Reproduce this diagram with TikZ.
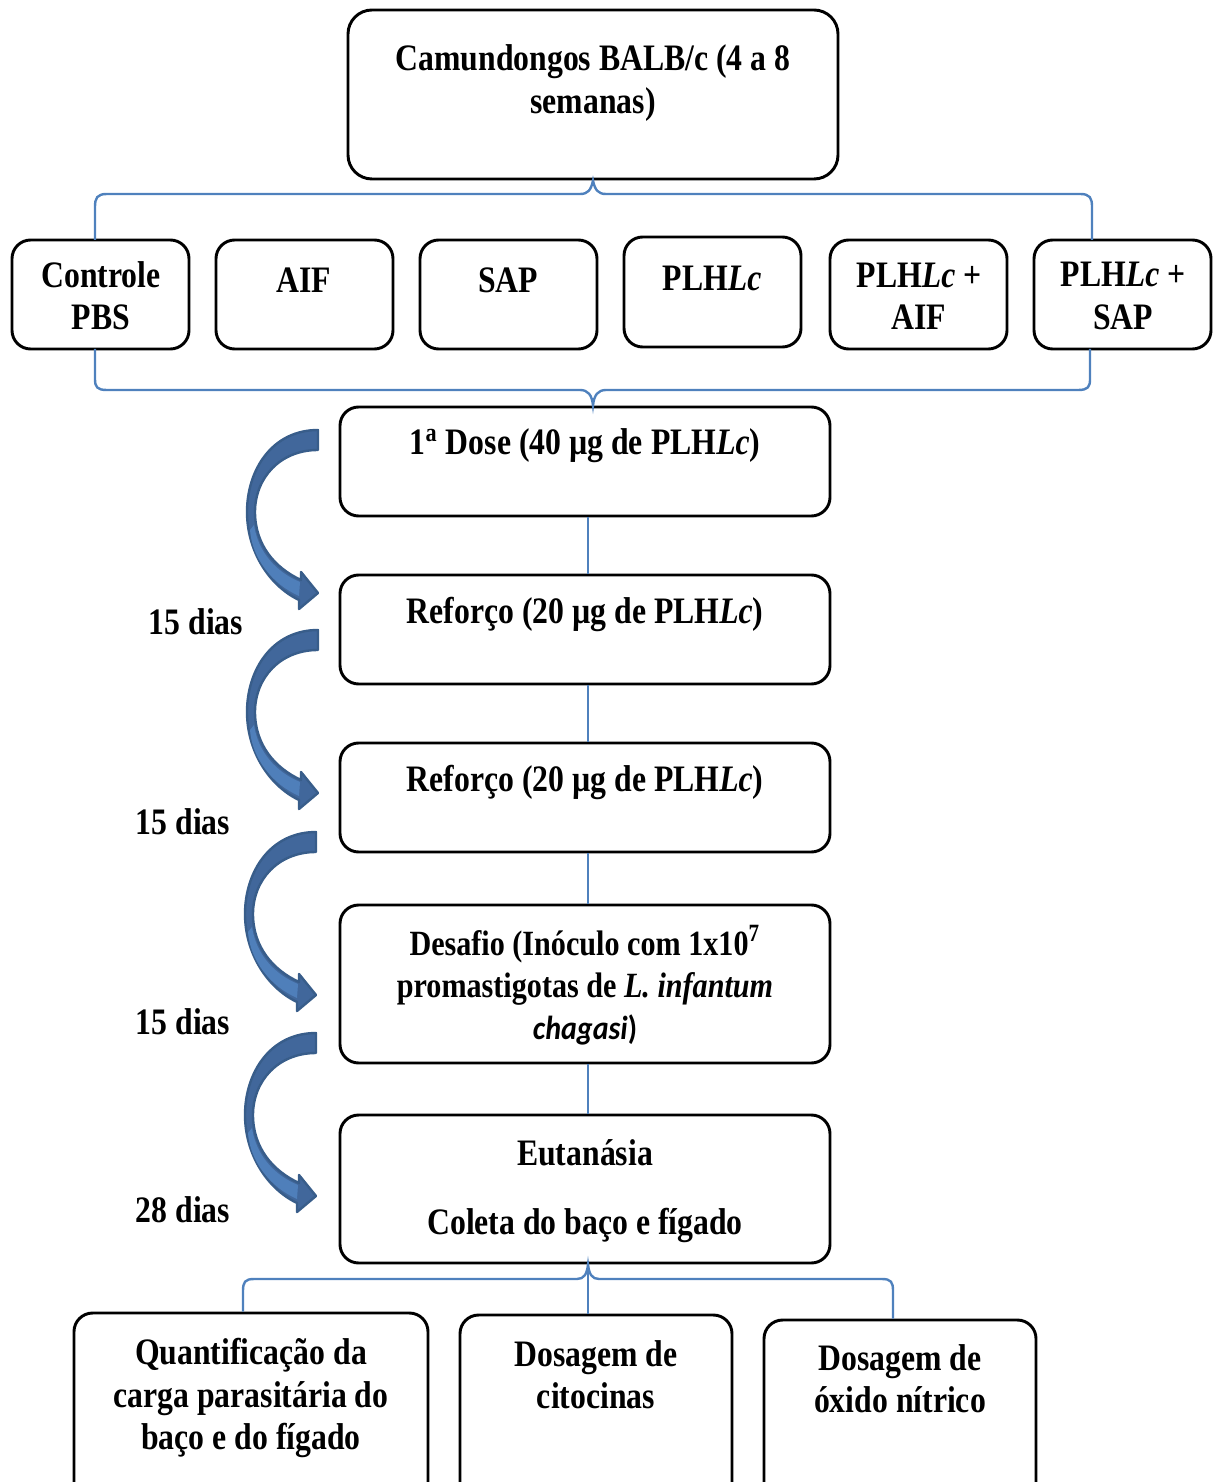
\documentclass[tikz,border=0pt]{standalone}
\usepackage{fontspec}
\setmainfont{Liberation Serif}[FakeStretch=0.85]
\newfontfamily\calibfont{Carlito}[FakeStretch=0.9]
\usetikzlibrary{fit}
\definecolor{linkblue}{HTML}{4F81BD}
\definecolor{arrowfill}{HTML}{41679B}
\definecolor{arrowlight}{HTML}{4F7FBA}
\definecolor{arrowedge}{HTML}{385D8A}
\begin{document}
\begin{tikzpicture}[x=0.375pt,y=-0.375pt,
  stagebox/.style={draw=black, line width=1.1pt, rounded corners=7pt, inner sep=0pt},
  lbl/.style={inner sep=0pt, align=center, font=\bfseries\fontsize{14}{15.8}\selectfont},
  link/.style={draw=linkblue, line width=0.9pt},
  bend arrow/.pic={
    \filldraw[fill=arrowfill, draw=arrowedge, line width=0.9pt, line join=round]
      (0,0) .. controls (-46,0) and (-71,40) .. (-71,82)
      .. controls (-71,120) and (-50,155) .. (-19,170)
      -- (-19,179) -- (0,163) -- (-17,142) -- (-17,150)
      .. controls (-43,138) and (-63,115) .. (-63,82)
      .. controls (-63,48) and (-38,20) .. (0,20) -- cycle;
    \fill[arrowlight]
      (-64,95) .. controls (-60,122) and (-42,142) .. (-18,152)
      -- (-19,166) .. controls (-46,154) and (-66,128) .. (-68,100) -- cycle;
  }]
\useasboundingbox (0,0) rectangle (1216,1482);
\clip (0,0) rectangle (1216,1482);

% start box
\node[stagebox, rounded corners=9pt, fit={(348,10) (838,179)}] (mice) {};
\node[lbl] (mice-t) at (593,83) {Camundongos BALB/c (4 a 8\\semanas)};

% treatment groups
\node[stagebox, fit={(12,240) (189,349)}] (g1) {};
\node[stagebox, fit={(216,240) (393,349)}] (g2) {};
\node[stagebox, fit={(420,240) (597,349)}] (g3) {};
\node[stagebox, fit={(624,237) (801,347)}] (g4) {};
\node[stagebox, fit={(830,240) (1007,349)}] (g5) {};
\node[stagebox, fit={(1034,240) (1211,349)}] (g6) {};
\node[lbl] (g1-t) at (101,296) {Controle\\PBS};
\node[lbl] (g2-t) at (304,280) {AIF};
\node[lbl] (g3-t) at (508,280) {SAP};
\node[lbl] (g4-t) at (712,278) {PLH\textit{Lc}};
\node[lbl] (g5-t) at (919,296) {PLH\textit{Lc} +\\AIF};
\node[lbl] (g6-t) at (1123,296) {PLH\textit{Lc} +\\SAP};

% immunisation schedule
\node[stagebox, fit={(340,407) (830,516)}] (d1) {};
\node[stagebox, fit={(340,575) (830,684)}] (d2) {};
\node[stagebox, fit={(340,743) (830,852)}] (d3) {};
\node[stagebox, fit={(340,905) (830,1063)}] (d4) {};
\node[stagebox, fit={(340,1115) (830,1263)}] (d5) {};
\node[lbl] (d1-t) at (585,446) {1\textsuperscript{a} Dose (40 µg de PLH\textit{Lc})};
\node[lbl] (d2-t) at (585,614) {Reforço (20 µg de PLH\textit{Lc})};
\node[lbl] (d3-t) at (585,782) {Reforço (20 µg de PLH\textit{Lc})};
\node[lbl, font=\bfseries\fontsize{13.3}{15.8}\selectfont] (d4-t) at (585,985)
  {Desafio (Inóculo com 1x10\textsuperscript{7}\\promastigotas de \textit{L. infantum}\\{\calibfont\fontsize{12.5}{15}\selectfont\bfseries\itshape chagasi}{\calibfont\fontsize{12.5}{15}\selectfont\bfseries )}};
\node[lbl] (d5-t1) at (585,1153) {Eutanásia};
\node[lbl] (d5-t2) at (585,1225) {Coleta do baço e fígado};

% analyses
\node[stagebox, fit={(74,1313) (428,1540)}] (a1) {};
\node[stagebox, fit={(460,1315) (732,1540)}] (a2) {};
\node[stagebox, fit={(764,1320) (1036,1540)}] (a3) {};
\node[lbl] (a1-t) at (251,1398) {Quantificação da\\carga parasitária do\\baço e do fígado};
\node[lbl] (a2-t) at (596,1375) {Dosagem de\\citocinas};
\node[lbl] (a3-t) at (900,1379) {Dosagem de\\óxido nítrico};

% interval labels
\node[lbl] (i1) at (196,622) {15 dias};
\node[lbl] (i2) at (183,822) {15 dias};
\node[lbl] (i3) at (183,1022) {15 dias};
\node[lbl] (i4) at (183,1210) {28 dias};

% curved interval arrows
\pic at (318,430) {bend arrow};
\pic at (318,630) {bend arrow};
\pic at (316,832) {bend arrow};
\pic at (316,1033) {bend arrow};

% braces: start box to groups
\coordinate (b1l) at (95,240);
\coordinate (b1r) at (1092,240);
\path[link] (b1l) -- (95,207) .. controls (95,198) and (97,194) .. (107,194)
  -- (580,194) .. controls (588,194) and (591,190) .. (mice.south -| 593,0)
  .. controls (595,190) and (598,194) .. (606,194)
  -- (1080,194) .. controls (1090,194) and (1092,198) .. (1092,207) -- (b1r);

% braces: groups to first dose
\coordinate (b2l) at (95,349);
\coordinate (b2r) at (1090,349);
\path[link] (b2l) -- (95,379) .. controls (95,387) and (97,390) .. (107,390)
  -- (580,390) .. controls (588,390) and (592,395) .. (d1.north -| 593,0)
  .. controls (594,395) and (598,390) .. (606,390)
  -- (1078,390) .. controls (1088,390) and (1090,387) .. (1090,379) -- (b2r);

% schedule links
\path[link] (d1.south -| 588,0) -- (d2.north -| 588,0);
\path[link] (d2.south -| 588,0) -- (d3.north -| 588,0);
\path[link] (d3.south -| 588,0) -- (d4.north -| 588,0);
\path[link] (d4.south -| 588,0) -- (d5.north -| 588,0);

% brace: euthanasia to analyses
\path[link] (a1.north -| 243,0) -- (243,1291) .. controls (243,1282) and (245,1279) .. (254,1279)
  -- (577,1279) .. controls (584,1279) and (587,1274) .. (d5.south -| 588,0)
  .. controls (589,1274) and (592,1279) .. (599,1279)
  -- (882,1279) .. controls (891,1279) and (893,1282) .. (893,1291) -- (a3.north -| 893,0);
\path[link] (d5.south -| 588,0) -- (a2.north -| 588,0);
\end{tikzpicture}
\end{document}
